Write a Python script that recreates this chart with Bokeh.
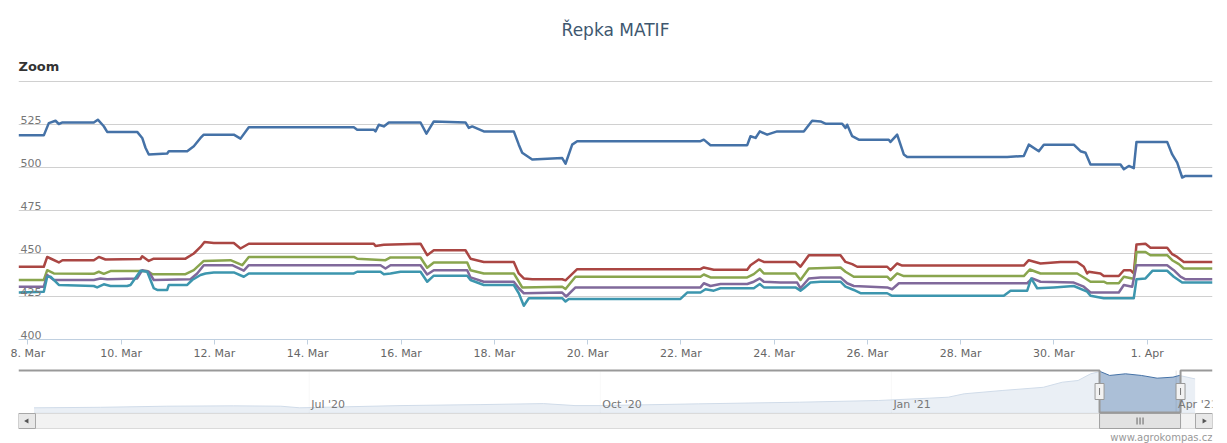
import numpy as np
import pandas as pd
from bokeh.plotting import figure
from bokeh.models import Range1d, FixedTicker, Title, ColumnDataSource, LabelSet
from bokeh.layouts import column
from bokeh.embed import file_html
from bokeh.resources import INLINE
from bokeh.core.properties import value

# ---------------- data (days after 8 Mar 2021 00:00, price EUR/t) ----------------
BASE = "2021-03-08"
VIEW_START_DAY, VIEW_END_DAY = -0.2016, 25.399

series_names = ["blue", "red", "green", "purple", "cyan"]
series_colors = ["#4572A7", "#AA4643", "#89A54E", "#80699B", "#3D96AE"]

blue = [(-0.20, 518.7), (0.341, 518.7), (0.448, 525.8), (0.592, 527.2), (0.663, 525.3), (0.742, 526.2),
        (1.413, 526.2), (1.499, 527.8), (1.627, 524.0), (1.700, 520.7), (2.343, 520.7), (2.451, 517.2),
        (2.521, 511.5), (2.592, 507.6), (2.987, 508.2), (3.021, 509.5), (3.416, 509.5), (3.557, 512.4),
        (3.701, 517.2), (3.771, 519.1), (4.415, 519.1), (4.558, 516.8), (4.736, 523.4), (6.988, 523.4),
        (7.060, 522.0), (7.416, 522.0), (7.453, 521.0), (7.524, 524.9), (7.631, 523.9), (7.738, 526.2),
        (8.418, 526.2), (8.545, 519.7), (8.703, 526.8), (9.382, 526.2), (9.453, 523.0), (9.526, 523.9),
        (9.775, 521.0), (10.418, 521.0), (10.525, 513.3), (10.598, 508.6), (10.813, 504.7), (11.456, 505.5),
        (11.527, 502.2), (11.670, 513.3), (11.777, 515.3), (14.421, 515.3), (14.492, 516.2), (14.635, 513.0),
        (15.423, 513.0), (15.493, 518.2), (15.601, 517.2), (15.693, 521.0), (15.850, 519.1), (16.065, 521.0),
        (16.636, 521.0), (16.815, 527.2), (16.994, 526.8), (17.101, 525.5), (17.459, 525.5), (17.530, 523.0),
        (17.566, 524.9), (17.674, 518.2), (17.815, 516.2), (18.458, 516.2), (18.495, 514.9), (18.638, 519.1),
        (18.780, 507.6), (18.853, 506.1), (20.997, 506.1), (21.353, 506.7), (21.460, 513.3), (21.675, 509.5),
        (21.782, 513.3), (22.425, 513.3), (22.569, 509.5), (22.676, 508.6), (22.783, 501.8), (23.426, 501.8),
        (23.498, 499.0), (23.605, 500.9), (23.711, 499.6), (23.769, 514.9), (24.427, 514.9), (24.535, 507.6),
        (24.642, 502.8), (24.749, 494.2), (24.820, 495.1), (25.399, 495.1)]

red = [(-0.20, 442.3), (0.341, 442.3), (0.414, 448.0), (0.485, 447.1), (0.663, 444.8), (0.742, 446.1),
       (1.413, 446.1), (1.520, 448.0), (1.663, 446.5), (2.414, 446.8), (2.451, 448.4), (2.592, 445.7),
       (2.699, 447.0), (3.379, 447.0), (3.557, 450.0), (3.701, 453.8), (3.786, 456.7), (3.986, 456.1),
       (4.415, 456.1), (4.558, 452.9), (4.736, 455.7), (7.416, 455.7), (7.453, 454.4), (7.631, 455.1),
       (8.418, 455.7), (8.561, 449.0), (8.703, 451.9), (9.382, 451.9), (9.490, 447.0), (9.775, 445.1),
       (10.418, 445.1), (10.525, 438.4), (10.633, 435.5), (10.813, 435.0), (11.456, 435.0), (11.527, 434.4),
       (11.777, 440.9), (14.421, 440.9), (14.492, 441.9), (14.706, 440.6), (15.423, 440.6), (15.493, 443.2),
       (15.671, 446.5), (15.779, 445.1), (16.458, 445.1), (16.565, 442.3), (16.744, 449.0), (17.423, 449.0),
       (17.530, 445.1), (17.674, 443.8), (17.781, 442.3), (18.424, 442.3), (18.495, 440.3), (18.638, 444.2),
       (18.746, 443.0), (21.353, 443.0), (21.460, 446.1), (21.711, 444.2), (22.140, 445.1), (22.498, 445.1),
       (22.640, 442.3), (22.712, 438.4), (22.746, 439.4), (22.997, 438.4), (23.068, 436.9), (23.390, 436.9),
       (23.498, 440.3), (23.640, 440.3), (23.711, 438.4), (23.769, 455.3), (23.962, 455.7), (24.069, 453.4),
       (24.427, 453.4), (24.535, 449.6), (24.642, 448.0), (24.784, 445.1), (25.399, 445.1)]

green = [(-0.20, 434.6), (0.341, 434.6), (0.414, 440.3), (0.556, 438.4), (1.413, 438.2), (1.520, 439.4),
         (1.627, 438.2), (1.771, 439.8), (2.558, 439.8), (2.665, 438.0), (3.379, 438.0), (3.557, 440.3),
         (3.771, 445.7), (4.344, 446.1), (4.595, 443.2), (4.736, 448.0), (6.988, 448.0), (7.060, 447.0),
         (7.667, 446.1), (7.774, 447.7), (8.418, 447.7), (8.561, 441.7), (8.703, 444.8), (9.419, 444.8),
         (9.490, 440.3), (9.775, 438.4), (10.418, 438.4), (10.525, 433.6), (10.598, 430.3), (11.456, 430.7),
         (11.527, 429.4), (11.741, 436.5), (14.421, 436.5), (14.492, 437.8), (14.635, 436.1), (15.423, 436.1),
         (15.564, 438.0), (15.693, 440.9), (15.779, 438.4), (16.458, 438.4), (16.565, 434.6), (16.744, 441.3),
         (17.423, 441.9), (17.530, 439.4), (17.708, 436.5), (18.424, 436.5), (18.495, 434.6), (18.638, 438.4),
         (18.780, 436.9), (21.353, 436.9), (21.482, 440.7), (21.711, 438.4), (22.498, 438.4), (22.676, 435.5),
         (22.783, 433.6), (23.068, 433.6), (23.140, 432.7), (23.390, 432.7), (23.498, 436.5), (23.677, 435.5),
         (23.711, 435.5), (23.769, 450.9), (23.962, 450.9), (24.069, 449.0), (24.427, 449.0), (24.535, 446.1),
         (24.678, 443.8), (24.784, 441.3), (25.399, 441.3)]

purple = [(-0.20, 430.7), (0.341, 430.7), (0.414, 437.5), (0.556, 434.6), (1.413, 434.6), (1.556, 435.5),
          (1.700, 435.0), (2.343, 435.5), (2.451, 440.3), (2.592, 439.4), (2.699, 434.6), (3.486, 435.0),
          (3.630, 438.4), (3.771, 443.2), (4.380, 443.2), (4.629, 440.0), (4.736, 443.2), (7.560, 443.2),
          (7.667, 441.3), (7.774, 443.2), (8.418, 443.2), (8.561, 437.8), (8.703, 440.3), (9.419, 440.3),
          (9.490, 436.1), (9.775, 433.6), (10.418, 433.6), (10.525, 429.8), (10.633, 426.9), (11.456, 427.3),
          (11.542, 425.0), (11.741, 430.3), (14.421, 430.3), (14.492, 432.7), (14.635, 431.1), (14.850, 432.3),
          (15.423, 432.3), (15.564, 433.6), (15.693, 435.5), (15.779, 433.6), (16.137, 433.1), (16.494, 433.1),
          (16.565, 429.8), (16.744, 435.5), (16.994, 436.1), (17.423, 436.1), (17.566, 432.7), (17.708, 431.1),
          (18.424, 430.3), (18.530, 429.2), (18.674, 432.7), (21.426, 432.7), (21.533, 435.5), (21.711, 433.6),
          (22.425, 433.1), (22.640, 430.7), (22.783, 427.3), (23.390, 427.3), (23.498, 431.7), (23.677, 430.7),
          (23.769, 443.2), (24.427, 443.2), (24.569, 440.3), (24.712, 436.5), (24.820, 435.0), (25.399, 435.0)]

cyan = [(-0.20, 427.3), (0.341, 427.8), (0.414, 436.5), (0.485, 436.5), (0.663, 431.7), (1.413, 431.1),
        (1.484, 430.3), (1.627, 432.1), (1.771, 431.1), (2.129, 431.1), (2.200, 431.7), (2.414, 440.0),
        (2.558, 439.4), (2.699, 429.8), (2.772, 428.8), (2.987, 428.8), (3.021, 431.7), (3.416, 431.7),
        (3.522, 434.6), (3.701, 437.5), (3.808, 438.4), (3.986, 439.0), (4.415, 439.0), (4.629, 436.5),
        (4.736, 438.4), (6.988, 438.4), (7.060, 439.4), (7.560, 439.4), (7.631, 438.0), (7.774, 438.4),
        (7.989, 439.4), (8.418, 439.4), (8.561, 433.6), (8.703, 437.1), (9.419, 437.1), (9.490, 434.6),
        (9.775, 431.7), (10.418, 431.7), (10.525, 426.9), (10.633, 419.6), (10.740, 424.0), (11.456, 424.0),
        (11.527, 422.1), (11.597, 423.6), (13.992, 423.6), (14.136, 427.3), (14.421, 427.3), (14.528, 429.2),
        (14.706, 428.4), (14.850, 429.8), (15.564, 429.8), (15.693, 432.3), (15.779, 430.3), (16.458, 430.3),
        (16.565, 428.4), (16.636, 429.8), (16.779, 433.1), (16.994, 433.6), (17.423, 433.6), (17.530, 430.7),
        (17.708, 428.8), (17.852, 426.9), (18.424, 426.9), (18.530, 425.4), (20.924, 425.4), (21.068, 428.4),
        (21.426, 428.4), (21.512, 435.5), (21.640, 429.8), (21.997, 430.3), (22.425, 431.1), (22.712, 427.8),
        (22.783, 425.4), (23.068, 424.0), (23.711, 424.0), (23.769, 435.0), (23.962, 435.5), (24.115, 440.0),
        (24.427, 440.0), (24.569, 436.5), (24.749, 433.1), (25.399, 433.1)]

all_series = [blue, red, green, purple, cyan]

y_ticks = [400, 425, 450, 475, 500, 525, 550]
y_tick_labels = ["400", "425", "450", "475", "500", "525"]   # 550 has no label
x_tick_dates = ["2021-03-08", "2021-03-10", "2021-03-12", "2021-03-14", "2021-03-16", "2021-03-18",
                "2021-03-20", "2021-03-22", "2021-03-24", "2021-03-26", "2021-03-28", "2021-03-30",
                "2021-04-01"]
x_tick_labels = ["8. Mar", "10. Mar", "12. Mar", "14. Mar", "16. Mar", "18. Mar", "20. Mar",
                 "22. Mar", "24. Mar", "26. Mar", "28. Mar", "30. Mar", "1. Apr"]

# navigator (long history of the first series)
nav_dates = ["2020-04-05", "2020-04-26", "2020-05-17", "2020-06-07", "2020-06-22", "2020-06-28",
             "2020-07-30", "2020-08-24", "2020-09-13", "2020-09-23", "2020-10-01", "2020-11-01",
             "2020-12-03", "2020-12-28", "2021-01-13", "2021-01-19", "2021-01-24", "2021-02-05",
             "2021-02-18", "2021-02-24", "2021-03-01", "2021-03-05", "2021-03-08", "2021-03-11",
             "2021-03-16", "2021-03-21", "2021-03-26", "2021-03-31", "2021-04-02", "2021-04-07"]
nav_values = [379, 381, 385.5, 387, 385.5, 379, 388, 392, 396, 388, 388, 395, 401.7, 408.6, 418, 422,
              435.7, 449, 462, 482.6, 489.5, 516.6, 526, 510, 516.6, 510, 499, 503, 510, 496]
nav_tick_dates = ["2020-07-01", "2020-10-01", "2021-01-01", "2021-04-01"]
nav_tick_labels = ["Jul '20", "Oct '20", "Jan '21", "Apr '21"]
NAV_START_DATE, NAV_SPAN_DAYS = "2020-03-31 02:24", 377.4
NAV_LO, NAV_HI = 360, 530

# ---------------- helpers ----------------
DAY = 86400000.0
def ms(s):
    return pd.Timestamp(s).value / 1e6
base_ms = ms(BASE)
def day_ms(d):
    return base_ms + d * DAY

FONT = "DejaVu Sans"
W = 1227
FRAME_W = 1194

view_start = day_ms(VIEW_START_DAY)
view_end = day_ms(VIEW_END_DAY)

# ---------------- main chart ----------------
p = figure(width=W, height=362, x_axis_type="datetime",
           x_range=Range1d(view_start, view_end), y_range=Range1d(400, 550.6),
           output_backend="svg", toolbar_location=None,
           min_border_left=18, min_border_right=15, min_border_top=80, min_border_bottom=22,
           background_fill_color="white", border_fill_color="white", outline_line_color=None)

p.title.text = "Řepka MATIF"
p.title.align = "center"
p.title.text_font = FONT
p.title.text_font_size = "17px"
p.title.text_font_style = "normal"
p.title.text_color = "#3E576F"
p.title.standoff = 22
p.add_layout(Title(text="Zoom", align="left", text_font=FONT, text_font_size="13px",
                   text_font_style="bold", text_color="#333333", standoff=13), "above")

p.yaxis.visible = False
p.ygrid.ticker = FixedTicker(ticks=y_ticks)
p.ygrid.grid_line_color = "#D0D0D0"
p.ygrid.grid_line_width = 1
p.xgrid.visible = False

x_tick_ms = [ms(d) for d in x_tick_dates]
p.xaxis.ticker = FixedTicker(ticks=x_tick_ms)
p.xaxis.major_label_overrides = {t: l for t, l in zip(x_tick_ms, x_tick_labels)}
p.xaxis.axis_line_color = "#C0D0E0"
p.xaxis.major_tick_line_color = "#C0D0E0"
p.xaxis.minor_tick_line_color = None
p.xaxis.major_tick_out = 5
p.xaxis.major_tick_in = 0
p.xaxis.major_label_standoff = 2
p.xaxis.major_label_text_font = FONT
p.xaxis.major_label_text_font_size = "11px"
p.xaxis.major_label_text_color = "#666666"

ylab = ColumnDataSource(dict(x=[view_start] * len(y_tick_labels), y=y_ticks[:len(y_tick_labels)],
                             text=y_tick_labels))
p.add_layout(LabelSet(x="x", y="y", text="text", source=ylab, x_offset=2, y_offset=1,
                      text_baseline="bottom", text_align="left", text_font=value(FONT),
                      text_font_size="11px", text_color="#777777"))

for data, color in zip(all_series, series_colors):
    xs = [day_ms(t) for t, _ in data]
    ys = [v for _, v in data]
    p.line(xs, ys, line_color=color, line_width=2.5, line_join="round")

# ---------------- navigator + scrollbar ----------------
nav_start = ms(NAV_START_DATE)
nav_end = nav_start + NAV_SPAN_DAYS * DAY
unit = (NAV_HI - NAV_LO) / 42.0          # value units per pixel in navigator
NAV_FRAME_H = 75
nav = figure(width=W, height=81, x_axis_type="datetime",
             x_range=Range1d(nav_start, nav_end),
             y_range=Range1d(NAV_LO - 31 * unit, NAV_HI + 2 * unit),
             output_backend="svg", toolbar_location=None,
             min_border_left=18, min_border_right=15, min_border_top=6, min_border_bottom=0,
             background_fill_color="white", border_fill_color="white", outline_line_color=None)
nav.axis.visible = False
nav.grid.visible = False
nav.extra_x_ranges = {"px": Range1d(0, FRAME_W)}
nav.extra_y_ranges = {"px": Range1d(0, NAV_FRAME_H)}

nt_ms = [ms(d) for d in nav_tick_dates]
nav.segment(x0=nt_ms, x1=nt_ms, y0=NAV_LO, y1=NAV_HI, line_color="#E4E4E4", line_width=1)

nx = [ms(d) for d in nav_dates]
nav.varea(x=nx, y1=NAV_LO, y2=nav_values, fill_color="#4572A7", fill_alpha=0.45)
nav.line(nx, nav_values, line_color="#4572A7", line_width=1)

# mask outside the selected range
nav.quad(left=[nav_start, view_end], right=[view_start, nav_end], bottom=NAV_LO, top=NAV_HI,
         fill_color="white", fill_alpha=0.75, line_color=None)

navlab = ColumnDataSource(dict(x=nt_ms, y=[NAV_LO] * len(nt_ms), text=nav_tick_labels))
nav.add_layout(LabelSet(x="x", y="y", text="text", source=navlab, x_offset=2, y_offset=2,
                        text_baseline="bottom", text_align="left", text_font=value(FONT),
                        text_font_size="11px", text_color="#777777"))

# outline
nav.line([nav_start, view_start, view_start, view_end, view_end, nav_end],
         [NAV_HI, NAV_HI, NAV_LO, NAV_LO, NAV_HI, NAV_HI], line_color="#999999", line_width=2)

# scrollbar (pixel coordinates, 0 = bottom of page)
frac0 = (view_start - nav_start) / (nav_end - nav_start) * FRAME_W
frac1 = (view_end - nav_start) / (nav_end - nav_start) * FRAME_W
SB_B, SB_T = 15, 30
nav.quad(left=[17], right=[1177], bottom=[SB_B], top=[SB_T], fill_color="#F2F2F2", line_color="#DADADA",
         x_range_name="px", y_range_name="px")
nav.quad(left=[0, 1177], right=[17, 1194], bottom=[SB_B, SB_B], top=[SB_T, SB_T], fill_color="#E8E8E8",
         line_color="#A8A8A8", x_range_name="px", y_range_name="px")
nav.scatter(x=[8.5], y=[(SB_B + SB_T) / 2], marker="triangle", angle=np.pi / 2, size=5,
            fill_color="#555555", line_color=None, x_range_name="px", y_range_name="px")
nav.scatter(x=[1185.5], y=[(SB_B + SB_T) / 2], marker="triangle", angle=-np.pi / 2, size=5,
            fill_color="#555555", line_color=None, x_range_name="px", y_range_name="px")
nav.quad(left=[frac0], right=[frac1], bottom=[SB_B], top=[SB_T], fill_color="#E2E2E2",
         line_color="#A0A0A0", x_range_name="px", y_range_name="px")
mid = (frac0 + frac1) / 2
nav.segment(x0=[mid - 3, mid, mid + 3], x1=[mid - 3, mid, mid + 3], y0=SB_B + 4, y1=SB_T - 4,
            line_color="#666666", line_width=1, x_range_name="px", y_range_name="px")

# handles
hy = (NAV_LO + NAV_HI) / 2
nav.rect(x=[view_start, view_end], y=[hy, hy], width=9, height=16, width_units="screen",
         height_units="screen", fill_color="#F2F2F2", line_color="#999999")
nav.rect(x=[view_start, view_end], y=[hy, hy], width=1, height=7, width_units="screen",
         height_units="screen", fill_color="#777777", line_color=None)

# watermark
nav.text(x=[FRAME_W], y=[6], text=["www.agrokompas.cz"], text_align="right", text_baseline="alphabetic",
         text_font=value(FONT), text_font_size="10px", text_color="#999999",
         x_range_name="px", y_range_name="px")

layout = column(p, nav, spacing=0)
open("out.html", "w").write(file_html(layout, INLINE))
